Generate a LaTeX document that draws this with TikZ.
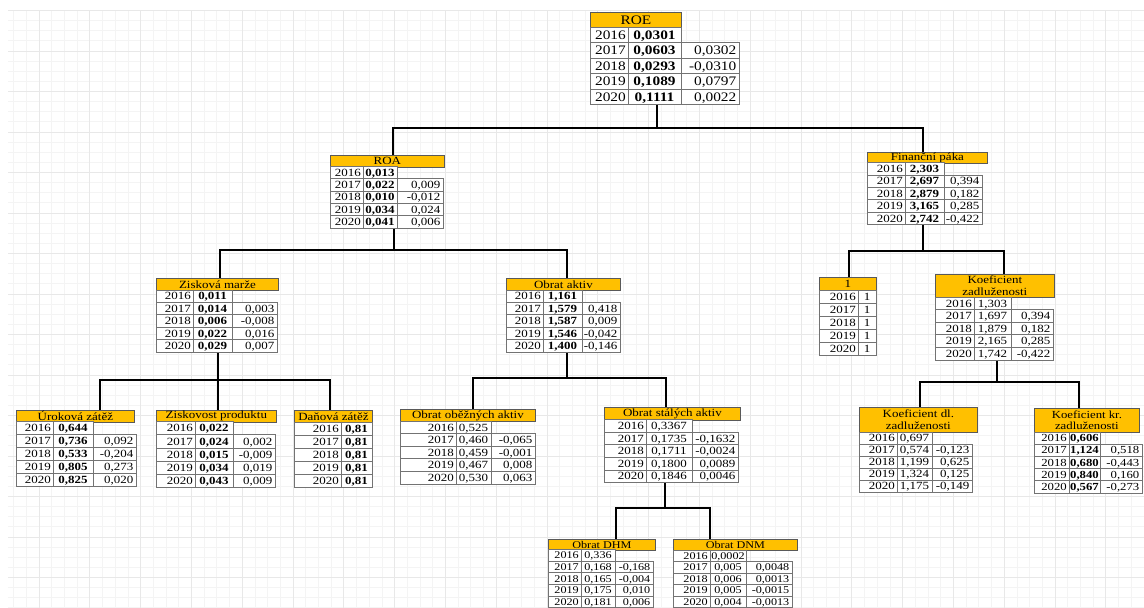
\documentclass[tikz,border=0pt]{standalone}
\usepackage{fontspec}
\setmainfont[FakeStretch=1.18]{Liberation Serif}
\definecolor{hdrfill}{HTML}{FFC000}
\definecolor{majgrid}{HTML}{E8E8E8}
\definecolor{mingrid}{HTML}{F4F4F4}
\tikzset{
  conn/.style={line width=2.5pt, black},
  cellbox/.style={draw=black!55, fill=white, line width=0.8pt},
  hdrbox/.style={draw=black!65, fill=hdrfill, line width=0.8pt, inner sep=0pt, align=center},
  celltext/.style={inner sep=0pt, anchor=base east},
  valtext/.style={inner sep=0pt, anchor=base},
  gridmin/.style={draw=mingrid, line width=0.8pt},
  gridmaj/.style={draw=majgrid, line width=0.9pt},
}
\newcommand\settab[8]{\def\TX{#1}\def\TY{#2}\def\WA{#3}\def\WB{#4}\def\WC{#5}\def\RH{#6}\def\FS{#7}\def\VF{#8}}
\newcommand\tabhdr[4]{%
  \node[hdrbox, font=\fontsize{\FS}{11.5}\selectfont, minimum width=#3pt, minimum height=#2pt, anchor=north west] (#1) at (\TX,\TY) {#4};
  \pgfmathsetmacro\RY{\TY+#2}}
\newcommand\tabrow[4]{%
  \pgfmathsetmacro\tYa{\RY+#1*\RH}%
  \pgfmathsetmacro\tYb{\tYa+\RH}%
  \pgfmathsetmacro\tXa{\TX+\WA}%
  \pgfmathsetmacro\tXb{\tXa+\WB}%
  \pgfmathsetmacro\tXc{\tXb+\WC}%
  \pgfmathsetmacro\tYt{\tYa+\RH/2+0.34*\FS}%
  \draw[cellbox] (\TX,\tYa) rectangle (\tXa,\tYb);
  \draw[cellbox] (\tXa,\tYa) rectangle (\tXb,\tYb);
  \ifnum#1>0 \ifdim\WC pt>0pt \draw[cellbox] (\tXb,\tYa) rectangle (\tXc,\tYb);\fi\fi
  \node[celltext, font=\fontsize{\FS}{12}\selectfont] at (\tXa-2,\tYt) {#2};
  \node[valtext, font=\fontsize{\FS}{12}\selectfont\VF] at ({(\tXa+\tXb)/2},\tYt) {#3};
  \ifnum#1>0 \ifdim\WC pt>0pt \node[celltext, font=\fontsize{\FS}{12}\selectfont] at (\tXc-2.5,\tYt) {#4};\fi\fi
}
\begin{document}
\begin{tikzpicture}[x=1pt,y=-1pt]
\useasboundingbox (0,0) rectangle (1144,608);
\fill[white] (0,0) rectangle (1144,608);
% background grid
\foreach \k in {0,...,89} {\draw[gridmin] ({13.6+\k*12.7},10.5) -- ({13.6+\k*12.7},608);}
\foreach \k in {0,...,59} {\draw[gridmin] (8,{10.5+\k*10.125}) -- (1144,{10.5+\k*10.125});}
\foreach \k in {0,...,21} {\draw[gridmaj] ({39+\k*50.8},10.5) -- ({39+\k*50.8},608);}
\foreach \k in {0,...,14} {\draw[gridmaj] (8,{10.5+\k*40.5}) -- (1144,{10.5+\k*40.5});}

% connector anchor points
\coordinate (roeB) at (657,104);  \coordinate (j1) at (657,128);
\coordinate (roaT) at (393,155);  \coordinate (finT) at (923,152);
\coordinate (roaB) at (394,228);  \coordinate (j2) at (394,250);
\coordinate (zisT) at (220,278);  \coordinate (obrT) at (567,278);
\coordinate (finB) at (923,225);  \coordinate (j3) at (923,251);
\coordinate (oneT) at (849,277);  \coordinate (kzT) at (1004,274);
\coordinate (zisB) at (218,352);  \coordinate (j4) at (218,380);
\coordinate (uroT) at (100,410);  \coordinate (zpT) at (218,410); \coordinate (danT) at (330,410);
\coordinate (obrB) at (567,352);  \coordinate (j5) at (567,378);
\coordinate (obeT) at (473,409);  \coordinate (staT) at (666,407);
\coordinate (kzB) at (997,360);   \coordinate (j6) at (997,382);
\coordinate (kdlT) at (920,407);  \coordinate (kkrT) at (1079,408);
\coordinate (staB) at (665,483);  \coordinate (j7) at (665,508);
\coordinate (dhmT) at (616,539);  \coordinate (dnmT) at (710,539);

% connectors
\draw[conn] (roeB) -- (j1);
\draw[conn] (roaT) |- (j1) -| (finT);
\draw[conn] (roaB) -- (j2);
\draw[conn] (zisT) |- (j2) -| (obrT);
\draw[conn] (finB) -- (j3);
\draw[conn] (oneT) |- (j3) -| (kzT);
\draw[conn] (zisB) -- (j4) -- (zpT);
\draw[conn] (uroT) |- (j4) -| (danT);
\draw[conn] (obrB) -- (j5);
\draw[conn] (obeT) |- (j5) -| (staT);
\draw[conn] (kzB) -- (j6);
\draw[conn] (kdlT) |- (j6) -| (kkrT);
\draw[conn] (staB) -- (j7);
\draw[conn] (dhmT) |- (j7) -| (dnmT);

% ROE
\settab{590}{12}{38}{53}{58}{15.5}{13}{\bfseries}
\tabhdr{roe}{15}{91}{ROE}
\tabrow{0}{2016}{0,0301}{}
\tabrow{1}{2017}{0,0603}{0,0302}
\tabrow{2}{2018}{0,0293}{-0,0310}
\tabrow{3}{2019}{0,1089}{0,0797}
\tabrow{4}{2020}{0,1111}{0,0022}

% ROA
\settab{330}{155}{33}{34}{46}{12.3}{11}{\bfseries}
\tabhdr{roa}{11.5}{114}{ROA}
\tabrow{0}{2016}{0,013}{}
\tabrow{1}{2017}{0,022}{0,009}
\tabrow{2}{2018}{0,010}{-0,012}
\tabrow{3}{2019}{0,034}{0,024}
\tabrow{4}{2020}{0,041}{0,006}

% Financni paka
\settab{867}{152}{38}{39}{38}{12.4}{11}{\bfseries}
\tabhdr{fin}{10.5}{120}{Finanční páka}
\tabrow{0}{2016}{2,303}{}
\tabrow{1}{2017}{2,697}{0,394}
\tabrow{2}{2018}{2,879}{0,182}
\tabrow{3}{2019}{3,165}{0,285}
\tabrow{4}{2020}{2,742}{-0,422}

% Ziskova marze
\settab{156}{278}{37}{39}{45}{12.4}{11}{\bfseries}
\tabhdr{zis}{12}{122}{Zisková marže}
\tabrow{0}{2016}{0,011}{}
\tabrow{1}{2017}{0,014}{0,003}
\tabrow{2}{2018}{0,006}{-0,008}
\tabrow{3}{2019}{0,022}{0,016}
\tabrow{4}{2020}{0,029}{0,007}

% Obrat aktiv
\settab{506}{278}{37}{39}{38}{12.4}{11}{\bfseries}
\tabhdr{obr}{12}{114}{Obrat aktiv}
\tabrow{0}{2016}{1,161}{}
\tabrow{1}{2017}{1,579}{0,418}
\tabrow{2}{2018}{1,587}{0,009}
\tabrow{3}{2019}{1,546}{-0,042}
\tabrow{4}{2020}{1,400}{-0,146}

% 1
\settab{819}{277}{39}{18}{0}{13}{11}{}
\tabhdr{one}{13}{57}{1}
\tabrow{0}{2016}{1}{}
\tabrow{1}{2017}{1}{}
\tabrow{2}{2018}{1}{}
\tabrow{3}{2019}{1}{}
\tabrow{4}{2020}{1}{}

% Koeficient zadluzenosti
\settab{935}{274}{39}{37}{42}{12.6}{11}{}
\tabhdr{kz}{23}{119}{Koeficient\\zadluženosti}
\tabrow{0}{2016}{1,303}{}
\tabrow{1}{2017}{1,697}{0,394}
\tabrow{2}{2018}{1,879}{0,182}
\tabrow{3}{2019}{2,165}{0,285}
\tabrow{4}{2020}{1,742}{-0,422}

% Urokova zatez
\settab{16}{410}{37}{40}{43}{13}{11}{\bfseries}
\tabhdr{uro}{11.5}{118}{Úroková zátěž}
\tabrow{0}{2016}{0,644}{}
\tabrow{1}{2017}{0,736}{0,092}
\tabrow{2}{2018}{0,533}{-0,204}
\tabrow{3}{2019}{0,805}{0,273}
\tabrow{4}{2020}{0,825}{0,020}

% Ziskovost produktu
\settab{156}{410}{39}{38}{42}{13.2}{11}{\bfseries}
\tabhdr{zp}{11.5}{120}{Ziskovost produktu}
\tabrow{0}{2016}{0,022}{}
\tabrow{1}{2017}{0,024}{0,002}
\tabrow{2}{2018}{0,015}{-0,009}
\tabrow{3}{2019}{0,034}{0,019}
\tabrow{4}{2020}{0,043}{0,009}

% Danova zatez
\settab{294}{410}{47}{31}{0}{13}{11}{\bfseries}
\tabhdr{dan}{12.5}{78}{Daňová zátěž}
\tabrow{0}{2016}{0,81}{}
\tabrow{1}{2017}{0,81}{}
\tabrow{2}{2018}{0,81}{}
\tabrow{3}{2019}{0,81}{}
\tabrow{4}{2020}{0,81}{}

% Obrat obeznych aktiv
\settab{400}{409}{56}{35}{44}{12.6}{11}{}
\tabhdr{obe}{12}{135}{Obrat oběžných aktiv}
\tabrow{0}{2016}{0,525}{}
\tabrow{1}{2017}{0,460}{-0,065}
\tabrow{2}{2018}{0,459}{-0,001}
\tabrow{3}{2019}{0,467}{0,008}
\tabrow{4}{2020}{0,530}{0,063}

% Obrat stalych aktiv
\settab{604}{407}{42}{46}{46}{12.6}{11}{}
\tabhdr{sta}{12.5}{136}{Obrat stálých aktiv}
\tabrow{0}{2016}{0,3367}{}
\tabrow{1}{2017}{0,1735}{-0,1632}
\tabrow{2}{2018}{0,1711}{-0,0024}
\tabrow{3}{2019}{0,1800}{0,0089}
\tabrow{4}{2020}{0,1846}{0,0046}

% Koeficient dl. zadluzenosti
\settab{859}{407}{38}{35}{40}{12}{11}{}
\tabhdr{kdl}{25}{118}{Koeficient dl.\\zadluženosti}
\tabrow{0}{2016}{0,697}{}
\tabrow{1}{2017}{0,574}{-0,123}
\tabrow{2}{2018}{1,199}{0,625}
\tabrow{3}{2019}{1,324}{0,125}
\tabrow{4}{2020}{1,175}{-0,149}

% Koeficient kr. zadluzenosti
\settab{1034}{408}{35}{31}{42}{12.2}{10.8}{\bfseries}
\tabhdr{kkr}{24}{105}{Koeficient kr.\\zadluženosti}
\tabrow{0}{2016}{0,606}{}
\tabrow{1}{2017}{1,124}{0,518}
\tabrow{2}{2018}{0,680}{-0,443}
\tabrow{3}{2019}{0,840}{0,160}
\tabrow{4}{2020}{0,567}{-0,273}

% Obrat DHM
\settab{548}{539}{33}{34}{38}{11.6}{10.3}{}
\tabhdr{dhm}{10.5}{107}{Obrat DHM}
\tabrow{0}{2016}{0,336}{}
\tabrow{1}{2017}{0,168}{-0,168}
\tabrow{2}{2018}{0,165}{-0,004}
\tabrow{3}{2019}{0,175}{0,010}
\tabrow{4}{2020}{0,181}{0,006}

% Obrat DNM
\settab{673}{539}{37}{36}{46}{11.5}{10.3}{}
\tabhdr{dnm}{11}{124}{Obrat DNM}
\tabrow{0}{2016}{0,0002}{}
\tabrow{1}{2017}{0,005}{0,0048}
\tabrow{2}{2018}{0,006}{0,0013}
\tabrow{3}{2019}{0,005}{-0,0015}
\tabrow{4}{2020}{0,004}{-0,0013}
\end{tikzpicture}
\end{document}
